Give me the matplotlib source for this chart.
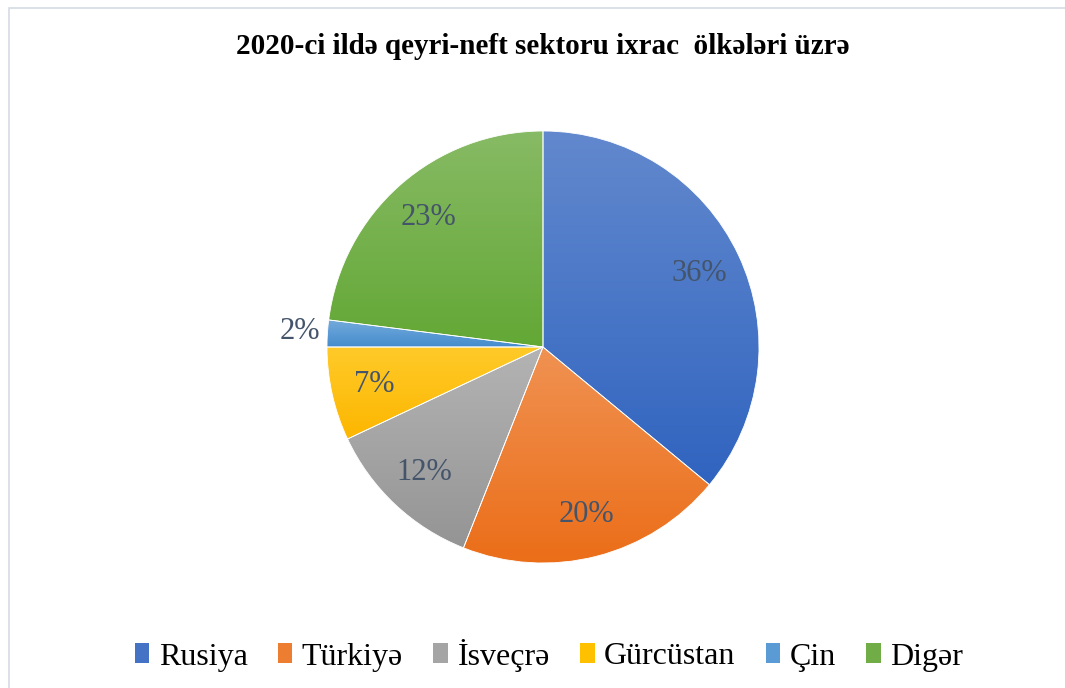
import matplotlib
matplotlib.use("Agg")
import matplotlib.pyplot as plt
import numpy as np
from matplotlib.colors import to_rgb
from matplotlib.patches import Patch, Rectangle

countries = ["Rusiya", "Türkiyə", "İsveçrə", "Gürcüstan", "Çin", "Digər"]
shares = [36, 20, 12, 7, 2, 23]
colors = ["#4472C4", "#ED7D31", "#A5A5A5", "#FFC000", "#5B9BD5", "#70AD47"]
title = "2020-ci ildə qeyri-neft sektoru ixrac  ölkələri üzrə"

plt.rcParams['font.family'] = ['Liberation Serif', 'DejaVu Serif']

W, H = 1065, 688
fig = plt.figure(figsize=(W / 100, H / 100), dpi=100)
fig.patch.set_facecolor("white")

# chart frame
fig.add_artist(Rectangle((9 / W, -0.1), 1.2, (H - 8) / H + 0.1, transform=fig.transFigure,
                         fill=False, edgecolor="#D6DCE5", linewidth=1.2))

cx, cy, r = 543, 347, 216
ax = fig.add_axes([(cx - r) / W, (H - cy - r) / H, 2 * r / W, 2 * r / H])
wedges, texts, autotexts = ax.pie(shares, colors=colors, startangle=90, counterclock=False,
                                  autopct=lambda p: f"{p:.0f}%", pctdistance=0.8,
                                  wedgeprops=dict(edgecolor="white", linewidth=0.6),
                                  textprops=dict(color="#44546A", fontsize=22))

# gradient fills
for w, c in zip(wedges, colors):
    base = np.array(to_rgb(c))
    top = base + (1 - base) * 0.16
    bot = np.clip((base - base.mean()) * 1.12 + base.mean() * 0.9, 0, 1)
    t = np.linspace(0, 1, 64)[:, None, None]
    grad = top[None, None, :] * (1 - t) + bot[None, None, :] * t
    ext = w.get_path().get_extents()
    im = ax.imshow(grad, extent=[ext.x0, ext.x1, ext.y0, ext.y1], origin="upper",
                   aspect="auto", zorder=0.9, interpolation="bilinear")
    im.set_clip_path(w)
    w.set_facecolor("none")
    w.set_zorder(1)

# move the tiny slice label outside
for w, at, s in zip(wedges, autotexts, shares):
    if s < 5:
        ang = np.deg2rad((w.theta1 + w.theta2) / 2)
        at.set_position((1.13 * np.cos(ang), 1.13 * np.sin(ang)))

ax.set_xlim(-1, 1)
ax.set_ylim(-1, 1)
ax.set_aspect("equal")
ax.axis("off")

fig.text(543 / W, 1 - 47 / H, title, ha="center", va="center",
         fontsize=21, fontweight="bold", color="black")

handles = [Patch(facecolor=c, edgecolor="none") for c in colors]
fig.legend(handles, countries, loc="center", bbox_to_anchor=(549 / W, 1 - 655 / H), ncol=6,
           frameon=False, fontsize=23, handlelength=0.45, handleheight=0.6,
           handletextpad=0.3, columnspacing=0.95, labelcolor="black")

fig.savefig("out.png", dpi=100, facecolor="white")
